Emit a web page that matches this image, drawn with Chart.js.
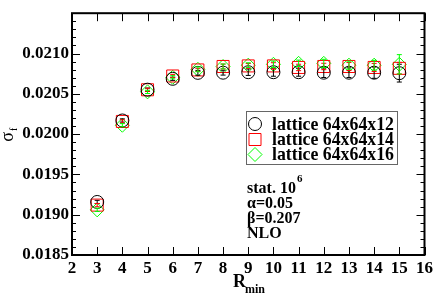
<!DOCTYPE html>
<html>
<head>
<meta charset="utf-8">
<script src="https://cdn.jsdelivr.net/npm/chart.js@4/dist/chart.umd.min.js"></script>
<style>
  body { margin: 0; background: #fff; }
  #wrap { width: 436px; height: 295px; }
</style>
</head>
<body>
<div id="wrap"><canvas id="sigmaChart" width="436" height="295"></canvas></div>
<script>
// R_min values
const rMin = [3, 4, 5, 6, 7, 8, 9, 10, 11, 12, 13, 14, 15];

// sigma_f for each lattice size
const sigma12 = [0.019158, 0.020169, 0.020551, 0.020686, 0.020760, 0.020762, 0.020768, 0.020768, 0.020768, 0.020762, 0.020762, 0.020762, 0.020756];
const sigma14 = [0.019119, 0.020157, 0.020550, 0.020721, 0.020796, 0.020839, 0.020846, 0.020846, 0.020827, 0.020839, 0.020839, 0.020827, 0.020816];
const sigma16 = [0.019060, 0.020110, 0.020524, 0.020705, 0.020804, 0.020839, 0.020855, 0.020866, 0.020878, 0.020878, 0.020855, 0.020855, 0.020866];

// error bars
const err12 = [0.00002, 0.00002, 0.00002, 0.00002, 0.00003, 0.00003, 0.00004, 0.00005, 0.00005, 0.00006, 0.00006, 0.00007, 0.00011];
const err14 = [0.00002, 0.00002, 0.00002, 0.00002, 0.00002, 0.00003, 0.00003, 0.00004, 0.00004, 0.00004, 0.00005, 0.00005, 0.00007];
const err16 = [0.00002, 0.00002, 0.00002, 0.00002, 0.00003, 0.00003, 0.00003, 0.00004, 0.00004, 0.00005, 0.00005, 0.00006, 0.00012];

const seriesLabels = ['lattice 64x64x12', 'lattice 64x64x14', 'lattice 64x64x16'];
const infoLines = ['stat. 10', '\u03b1=0.05', '\u03b2=0.207', 'NLO'];

const FONT = '"Liberation Serif", "DejaVu Serif", serif';

function toPoints(ys) {
    return rMin.map((x, i) => ({ x: x, y: ys[i] }));
}

function markerPath(ctx, style, x, y) {
    ctx.beginPath();
    if (style === 'circle') {
        ctx.arc(x, y, 6.5, 0, Math.PI * 2);
    } else if (style === 'rect') {
        ctx.rect(x - 6, y - 6, 12, 12);
    } else {
        ctx.moveTo(x, y - 7);
        ctx.lineTo(x + 7, y);
        ctx.lineTo(x, y + 7);
        ctx.lineTo(x - 7, y);
        ctx.closePath();
    }
    ctx.stroke();
}

// error bars on top of markers
const errorBars = {
    id: 'errorBars',
    afterDatasetsDraw(chart) {
        const ctx = chart.ctx;
        const xs = chart.scales.x, ys = chart.scales.y;
        ctx.save();
        ctx.lineWidth = 1;
        chart.data.datasets.forEach(ds => {
            ctx.strokeStyle = ds.borderColor;
            ds.data.forEach((p, i) => {
                const e = ds.errors[i];
                const px = xs.getPixelForValue(p.x);
                const top = ys.getPixelForValue(p.y + e);
                const bot = ys.getPixelForValue(p.y - e);
                ctx.beginPath();
                ctx.moveTo(px, top); ctx.lineTo(px, bot);
                ctx.moveTo(px - 2.5, top); ctx.lineTo(px + 2.5, top);
                ctx.moveTo(px - 2.5, bot); ctx.lineTo(px + 2.5, bot);
                ctx.stroke();
            });
        });
        ctx.restore();
    }
};

// frame, inward ticks, titles, legend box and notes
const decorations = {
    id: 'decorations',
    afterDraw(chart) {
        const ctx = chart.ctx;
        const a = chart.chartArea;
        const xs = chart.scales.x, ys = chart.scales.y;
        ctx.save();
        ctx.strokeStyle = '#000';
        ctx.lineWidth = 1;
        ctx.beginPath();
        for (let v = 2; v <= 16; v++) {
            const px = Math.round(xs.getPixelForValue(v)) + 0.5;
            ctx.moveTo(px, a.bottom); ctx.lineTo(px, a.bottom - 8);
            ctx.moveTo(px, a.top); ctx.lineTo(px, a.top + 8);
        }
        for (let k = 0; k <= 30; k++) {
            const v = 0.0185 + k * 0.0001;
            const py = Math.round(ys.getPixelForValue(v)) + 0.5;
            const len = k % 5 === 0 ? 8 : 4;
            ctx.moveTo(a.left, py); ctx.lineTo(a.left + len, py);
            ctx.moveTo(a.right, py); ctx.lineTo(a.right - len, py);
        }
        ctx.stroke();
        ctx.lineWidth = 2;
        ctx.strokeRect(a.left, a.top, a.right - a.left, a.bottom - a.top);

        // axis titles
        ctx.fillStyle = '#000';
        ctx.textBaseline = 'alphabetic';
        ctx.textAlign = 'left';
        ctx.font = 'bold 18px ' + FONT;
        ctx.fillText('R', 233, 287);
        ctx.font = 'bold 12px ' + FONT;
        ctx.fillText('min', 245, 293);

        ctx.save();
        ctx.translate(13, 137);
        ctx.rotate(-Math.PI / 2);
        ctx.font = '18px ' + FONT;
        ctx.textAlign = 'center';
        ctx.fillText('\u03c3', 0, 0);
        ctx.font = '10px ' + FONT;
        ctx.textAlign = 'left';
        ctx.fillText('f', 6, 4);
        ctx.restore();

        // legend
        ctx.lineWidth = 1;
        ctx.strokeStyle = '#666';
        ctx.strokeRect(246.5, 111.5, 151, 53);
        const rows = [124, 139.5, 154.5];
        chart.data.datasets.forEach((ds, i) => {
            ctx.strokeStyle = ds.borderColor;
            ctx.lineWidth = 1;
            markerPath(ctx, ds.pointStyle, 255, rows[i]);
            ctx.fillStyle = '#000';
            ctx.font = 'bold 17.8px ' + FONT;
            ctx.textBaseline = 'middle';
            ctx.fillText(seriesLabels[i], 272, rows[i] + 1);
        });

        // run info
        ctx.textBaseline = 'alphabetic';
        ctx.font = 'bold 16px ' + FONT;
        const base = [193, 208, 223, 238];
        infoLines.forEach((t, i) => ctx.fillText(t, 247, base[i]));
        const w = ctx.measureText(infoLines[0]).width;
        ctx.font = 'bold 11px ' + FONT;
        ctx.fillText('6', 247 + w + 1, 182);
        ctx.restore();
    }
};

const tickFont = { family: FONT, size: 17, weight: 'bold' };

new Chart(document.getElementById('sigmaChart'), {
    type: 'scatter',
    data: {
        datasets: [
            { label: seriesLabels[0], data: toPoints(sigma12), errors: err12, pointStyle: 'circle', pointRadius: 6.5, borderColor: '#000000' },
            { label: seriesLabels[1], data: toPoints(sigma14), errors: err14, pointStyle: 'rect', pointRadius: 8.5, borderColor: '#ff0000' },
            { label: seriesLabels[2], data: toPoints(sigma16), errors: err16, pointStyle: 'rectRot', pointRadius: 7, borderColor: '#00ff00' }
        ].map(d => Object.assign(d, {
            showLine: false,
            backgroundColor: 'rgba(0,0,0,0)',
            pointBorderWidth: 1,
            pointHoverRadius: d.pointRadius
        }))
    },
    options: {
        responsive: false,
        animation: false,
        events: [],
        layout: { padding: { top: 2, right: 10, left: 0, bottom: 0 } },
        plugins: { legend: { display: false }, tooltip: { enabled: false } },
        scales: {
            x: {
                type: 'linear', min: 2, max: 16,
                afterFit: s => { s.height = 40; },
                grid: { display: false, drawTicks: false },
                border: { display: false },
                ticks: { stepSize: 1, font: tickFont, color: '#000', padding: 3, maxRotation: 0 }
            },
            y: {
                type: 'linear', min: 0.0185, max: 0.0215,
                afterFit: s => { s.width = 72; },
                grid: { display: false, drawTicks: false },
                border: { display: false },
                ticks: {
                    stepSize: 0.0005, font: tickFont, color: '#000', padding: 3,
                    callback: v => v > 0.02149 ? '' : v.toFixed(4)
                }
            }
        }
    },
    plugins: [errorBars, decorations]
});
</script>
</body>
</html>
